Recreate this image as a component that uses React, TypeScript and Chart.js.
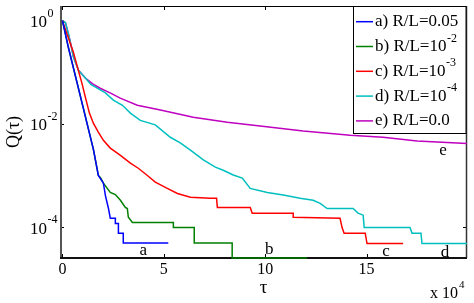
import React, { useEffect, useRef } from "react";
import { Chart, registerables } from "chart.js";

Chart.register(...registerables);

const FONT = "'Liberation Serif', 'Times New Roman', serif";

// a) R/L = 0.05
const tauA = [0, 0.3, 0.99, 1.53, 1.77, 2.02, 2.12, 2.27, 2.36, 2.61, 2.61, 2.76, 2.76, 3.0, 3.0, 5.22];
const qA = [1, 0.295, 0.0234, 0.00316, 0.001, 0.000708, 0.000407, 0.000229, 0.000148, 0.000148, 0.000117, 0.000117, 0.0000759, 0.0000759, 0.000049, 0.000049];

// b) R/L = 1e-2
const tauB = [0, 0.3, 0.99, 1.53, 1.77, 1.87, 2.02, 2.36, 2.61, 2.86, 3.1, 3.2, 3.25, 3.45, 5.47, 5.47, 6.5, 6.5, 8.37, 8.37, 12.07];
const qB = [1, 0.295, 0.0234, 0.00316, 0.001, 0.000912, 0.000708, 0.000468, 0.000427, 0.000331, 0.00024, 0.000229, 0.000155, 0.000123, 0.000123, 0.0000977, 0.0000977, 0.000049, 0.000049, 0.0000251, 0.0000251];

// c) R/L = 1e-3
const tauC = [0, 0.2, 0.54, 0.74, 0.96, 1.13, 1.33, 1.53, 1.77, 2.02, 2.36, 2.86, 3.35, 3.74, 4.19, 4.58, 5.17, 5.67, 6.31, 7.29, 7.6, 7.64, 9.26, 9.36, 11.38, 11.38, 13.69, 13.79, 13.89, 14.93, 15.02, 16.8];
const qC = [1, 0.589, 0.245, 0.126, 0.0617, 0.0331, 0.0162, 0.0102, 0.00692, 0.00479, 0.00339, 0.00245, 0.00174, 0.00138, 0.001, 0.000741, 0.000562, 0.000447, 0.00038, 0.000363, 0.000363, 0.00024, 0.00024, 0.000186, 0.000186, 0.000155, 0.000148, 0.0000977, 0.0000759, 0.0000759, 0.0000479, 0.0000479];

// d) R/L = 1e-4
const tauD = [0, 0.15, 0.3, 0.45, 0.54, 0.79, 1.13, 1.4, 2.12, 2.51, 2.96, 3.35, 3.84, 4.58, 5.32, 5.81, 6.31, 6.95, 7.54, 7.93, 8.42, 8.87, 9.26, 10.1, 10.89, 11.72, 12.36, 12.71, 13.05, 14.33, 14.58, 14.83, 14.88, 17.14, 17.24, 17.68, 17.73, 19.95];
const qD = [1, 0.912, 0.55, 0.3, 0.2, 0.11, 0.0776, 0.058, 0.0398, 0.0288, 0.0229, 0.0162, 0.0117, 0.00955, 0.0055, 0.00427, 0.00309, 0.002, 0.00145, 0.00126, 0.00102, 0.000891, 0.000562, 0.000468, 0.000417, 0.000363, 0.000331, 0.000288, 0.000229, 0.000229, 0.000186, 0.00017, 0.0000977, 0.0000977, 0.0000759, 0.0000759, 0.0000479, 0.0000479];

// e) R/L = 0.0
const tauE = [0, 0.15, 0.3, 0.45, 0.54, 0.79, 1.13, 1.51, 1.86, 2.35, 2.85, 3.69, 4.83, 6.45, 8.13, 9.75, 11.87, 14.19, 15.81, 17.49, 19.95];
const qE = [1, 0.912, 0.55, 0.3, 0.2, 0.11, 0.0776, 0.0589, 0.049, 0.0398, 0.0316, 0.0229, 0.0186, 0.0135, 0.0107, 0.00912, 0.00724, 0.00603, 0.0055, 0.00468, 0.00417];

const seriesTau = [tauA, tauB, tauC, tauD, tauE];
const seriesQ = [qA, qB, qC, qD, qE];
const seriesBase = ["a) R/L=0.05", "b) R/L=10", "c) R/L=10", "d) R/L=10", "e) R/L=0.0"];
const seriesExp = ["", "-2", "-3", "-4", ""];
const seriesColors = ["#0000ff", "#008000", "#ff0000", "#00bfbf", "#bf00bf"];

const xTicks = [0, 5, 10, 15];
const yTickExponents = [0, -2, -4];

// curve tags (letter, tau, Q)
const tagText = ["a", "b", "c", "d", "e"];
const tagTau = [3.99, 10.2, 15.96, 18.87, 18.77];
const tagQ = [3.5e-5, 3.7e-5, 3.4e-5, 3.25e-5, 0.0031];

function line(ctx: CanvasRenderingContext2D, x1: number, y1: number, x2: number, y2: number) {
  ctx.beginPath();
  ctx.moveTo(x1, y1);
  ctx.lineTo(x2, y2);
  ctx.stroke();
}

const framePlugin = {
  id: "frame",
  beforeDatasetsDraw(chart: any) {
    const { ctx, chartArea } = chart;
    const { left, right, top, bottom } = chartArea;
    const xs = chart.scales.x;
    const ys = chart.scales.y;
    ctx.save();
    ctx.strokeStyle = "#000";
    ctx.lineWidth = 1;
    xTicks.forEach((v) => {
      const px = Math.round(xs.getPixelForValue(v)) + 0.5;
      line(ctx, px, bottom, px, bottom - 4);
      line(ctx, px, top, px, top + 4);
    });
    yTickExponents.forEach((e) => {
      const py = Math.round(ys.getPixelForValue(Math.pow(10, e))) + 0.5;
      line(ctx, left, py, left + 4, py);
      line(ctx, right, py, right - 4, py);
    });
    // top
    ctx.strokeStyle = "#000";
    ctx.lineWidth = 1;
    line(ctx, left, top + 0.5, right, top + 0.5);
    // right
    ctx.strokeStyle = "#333";
    ctx.lineWidth = 1.5;
    line(ctx, right - 0.5, top, right - 0.5, bottom);
    // left
    ctx.strokeStyle = "#555";
    ctx.lineWidth = 2;
    line(ctx, left + 1, top, left + 1, bottom + 1);
    // bottom
    ctx.strokeStyle = "#111";
    ctx.lineWidth = 2;
    line(ctx, left, bottom, right, bottom);
    ctx.restore();
  },
  afterDatasetsDraw(chart: any) {
    const { ctx, chartArea } = chart;
    const { right, top } = chartArea;
    const xs = chart.scales.x;
    const ys = chart.scales.y;
    ctx.save();
    ctx.fillStyle = "#000";

    // y tick labels 10^n
    yTickExponents.forEach((e) => {
      const py = ys.getPixelForValue(Math.pow(10, e));
      ctx.font = `17px ${FONT}`;
      ctx.textAlign = "right";
      ctx.textBaseline = "middle";
      ctx.fillText("10", 47, py + 2);
      ctx.font = `12px ${FONT}`;
      ctx.textAlign = "left";
      ctx.fillText(String(e), 47.5, py - 7);
    });

    // x 10^4
    ctx.font = `16px ${FONT}`;
    ctx.textAlign = "right";
    ctx.textBaseline = "middle";
    ctx.fillText("x 10", 458, 294);
    ctx.font = `11px ${FONT}`;
    ctx.textAlign = "left";
    ctx.fillText("4", 459, 285);

    // curve tags
    ctx.font = `17px ${FONT}`;
    ctx.textAlign = "center";
    ctx.textBaseline = "middle";
    tagText.forEach((t, i) => {
      ctx.fillText(t, xs.getPixelForValue(tagTau[i]), ys.getPixelForValue(tagQ[i]));
    });

    // legend
    const bx = 353.5;
    const by = top + 0.5;
    const bw = right - 1 - bx;
    const bh = 127;
    ctx.fillStyle = "#fff";
    ctx.fillRect(bx, by, bw, bh);
    ctx.strokeStyle = "#000";
    ctx.lineWidth = 1;
    ctx.strokeRect(bx, by, bw, bh);
    chart.data.datasets.forEach((ds: any, i: number) => {
      const cy = 21.7 + i * 24.8;
      ctx.strokeStyle = ds.borderColor;
      ctx.lineWidth = 1.5;
      line(ctx, 356, cy, 373, cy);
      ctx.fillStyle = "#000";
      ctx.font = `17px ${FONT}`;
      ctx.textAlign = "left";
      ctx.textBaseline = "middle";
      ctx.fillText(seriesBase[i], 375, cy);
      if (seriesExp[i]) {
        const w = ctx.measureText(seriesBase[i]).width;
        ctx.font = `12px ${FONT}`;
        ctx.fillText(seriesExp[i], 375 + w + 0.5, cy - 8);
      }
    });
    ctx.restore();
  },
};

export default function App() {
  const ref = useRef<HTMLCanvasElement | null>(null);
  useEffect(() => {
    document.body.style.margin = "0";
    const canvas = ref.current;
    if (!canvas) return;
    const chart = new Chart(canvas, {
      type: "line",
      data: {
        datasets: seriesTau.map((taus, i) => ({
          label: seriesBase[i] + seriesExp[i],
          data: taus.map((t, j) => ({ x: t, y: seriesQ[i][j] })),
          borderColor: seriesColors[i],
          backgroundColor: seriesColors[i],
          borderWidth: 1.5,
          pointRadius: 0,
          tension: 0,
          fill: false,
          clip: false as any,
        })),
      },
      options: {
        animation: false,
        responsive: false,
        devicePixelRatio: 1,
        parsing: true as any,
        layout: { padding: { top: 6, right: 7, left: 0, bottom: 0 } },
        plugins: {
          legend: { display: false },
          tooltip: { enabled: false },
        },
        scales: {
          x: {
            type: "linear",
            min: -0.12,
            max: 19.95,
            afterBuildTicks: (s: any) => {
              s.ticks = xTicks.map((v) => ({ value: v }));
            },
            afterFit: (s: any) => {
              s.height = 45;
            },
            ticks: {
              color: "#000",
              padding: 2,
              maxRotation: 0,
              autoSkip: false,
              font: { family: FONT, size: 16 },
              callback: (v: any) => String(v),
            },
            grid: { display: false, drawTicks: false },
            border: { display: false },
            title: {
              display: true,
              text: "τ",
              color: "#000",
              font: { family: FONT, size: 19 },
              padding: { top: 0, bottom: 4 },
            },
          },
          y: {
            type: "logarithmic",
            min: Math.pow(10, -4.6),
            max: Math.pow(10, 0.285),
            afterBuildTicks: (s: any) => {
              s.ticks = yTickExponents.map((e) => ({ value: Math.pow(10, e) }));
            },
            afterFit: (s: any) => {
              s.width = 60;
            },
            ticks: { display: false },
            grid: { display: false, drawTicks: false },
            border: { display: false },
            title: {
              display: true,
              text: "Q(τ)",
              color: "#000",
              font: { family: FONT, size: 18 },
              padding: { top: 3, bottom: 0 },
            },
          },
        },
      },
      plugins: [framePlugin],
    });
    return () => chart.destroy();
  }, []);
  return (
    <div style={{ position: "fixed", left: 0, top: 0, width: 474, height: 303, background: "#fff" }}>
      <canvas ref={ref} width={474} height={303} style={{ display: "block" }} />
    </div>
  );
}
